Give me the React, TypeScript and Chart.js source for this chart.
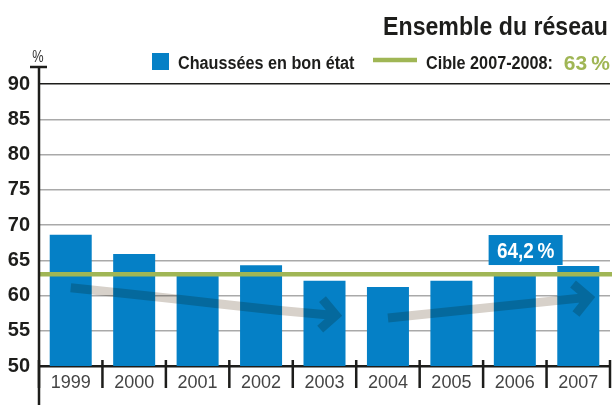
import React, { useEffect, useRef } from "react";
import { Chart, registerables } from "chart.js";

Chart.register(...registerables);

// ---- data ----
const years = ["1999", "2000", "2001", "2002", "2003", "2004", "2005", "2006", "2007"];
const goodCondition = [68.6, 65.9, 63.0, 64.3, 62.1, 61.2, 62.1, 63.0, 64.2];
const targetValue = 63;
const yMin = 50;
const yMax = 90;
const yStep = 5;
// trend arrows: [category index, value]
const arrowDecline: [number, number][] = [[0, 61.1], [1.7, 59.5], [3.3, 57.8], [4.18, 57.2]];
const arrowRise: [number, number][] = [[5.0, 56.8], [6.7, 58.4], [8.17, 59.7]];
const calloutPos: [number, number] = [7.17, 66.45];

const titleText = "Ensemble du réseau";
const legendBars = "Chaussées en bon état";
const legendTarget = "Cible 2007-2008:";
const legendTargetValue = "63\u202F%";
const unitText = "%";

const BLUE = "#0580c6";
const GREEN = "#a0b655";
const DARK = "#1d1d1b";
const FONT = "'Liberation Sans', Arial, sans-serif";

function drawText(
  ctx: CanvasRenderingContext2D,
  s: string,
  x: number,
  y: number,
  font: string,
  color: string,
  align: "left" | "right" | "center",
  sx = 1
) {
  ctx.save();
  ctx.font = font;
  ctx.fillStyle = color;
  ctx.textBaseline = "alphabetic";
  ctx.textAlign = "left";
  const w = ctx.measureText(s).width * sx;
  const x0 = align === "right" ? x - w : align === "center" ? x - w / 2 : x;
  ctx.translate(x0, y);
  ctx.scale(sx, 1);
  ctx.fillText(s, 0, 0);
  ctx.restore();
  return w;
}

function drawArrow(chart: any, pts: [number, number][]) {
  const { ctx, scales } = chart;
  const xs = scales.x;
  const ys = scales.y;
  const p = pts.map(([i, v]) => [xs.getPixelForValue(i), ys.getPixelForValue(v)]);
  ctx.save();
  ctx.globalCompositeOperation = "multiply";
  ctx.strokeStyle = "#d7d1ca";
  ctx.lineWidth = 9;
  ctx.lineCap = "butt";
  ctx.lineJoin = "miter";
  ctx.beginPath();
  ctx.moveTo(p[0][0], p[0][1]);
  for (let k = 1; k < p.length - 1; k++) {
    const mx = (p[k][0] + p[k + 1][0]) / 2;
    const my = (p[k][1] + p[k + 1][1]) / 2;
    if (k === p.length - 2) ctx.quadraticCurveTo(p[k][0], p[k][1], p[k + 1][0] - 4, p[k + 1][1]);
    else ctx.quadraticCurveTo(p[k][0], p[k][1], mx, my);
  }
  if (p.length === 2) ctx.lineTo(p[1][0] - 4, p[1][1]);
  const tip = p[p.length - 1];
  const prev = p[p.length - 2];
  const ang = Math.atan2(tip[1] - prev[1], tip[0] - prev[0]);
  const L = 21;
  ctx.moveTo(tip[0] + L * Math.cos(ang + Math.PI - 0.8), tip[1] + L * Math.sin(ang + Math.PI - 0.8));
  ctx.lineTo(tip[0], tip[1]);
  ctx.lineTo(tip[0] + L * Math.cos(ang + Math.PI + 0.8), tip[1] + L * Math.sin(ang + Math.PI + 0.8));
  ctx.stroke();
  ctx.restore();
}

const decorPlugin = {
  id: "decor",
  afterDatasetsDraw(chart: any) {
    const { ctx, scales, chartArea, width } = chart;
    const xs = scales.x;
    const ys = scales.y;
    drawArrow(chart, arrowDecline);
    drawArrow(chart, arrowRise);

    // target line
    const ty = ys.getPixelForValue(targetValue);
    ctx.save();
    ctx.strokeStyle = GREEN;
    ctx.lineWidth = 4.5;
    ctx.beginPath();
    ctx.moveTo(chartArea.left, ty);
    ctx.lineTo(width, ty);
    ctx.stroke();
    ctx.restore();

    // callout box
    const cx = xs.getPixelForValue(calloutPos[0]);
    const cy = ys.getPixelForValue(calloutPos[1]);
    ctx.save();
    ctx.fillStyle = BLUE;
    ctx.fillRect(cx - 37, cy - 15, 74, 30);
    ctx.restore();
    const lastVal = goodCondition[goodCondition.length - 1].toFixed(1).replace(".", ",") + "\u202F%";
    drawText(ctx, lastVal, cx, cy + 8, `bold 22px ${FONT}`, "#ffffff", "center", 0.86);
  },
  afterDraw(chart: any) {
    const { ctx, scales, chartArea, height } = chart;
    const xs = scales.x;
    // y axis line with cap
    ctx.save();
    ctx.strokeStyle = DARK;
    ctx.lineWidth = 2.5;
    ctx.beginPath();
    ctx.moveTo(chartArea.left, 67);
    ctx.lineTo(chartArea.left, height);
    ctx.moveTo(chartArea.left - 9, 67);
    ctx.lineTo(chartArea.left + 8, 67);
    ctx.stroke();
    // category separators
    ctx.lineWidth = 2.5;
    ctx.beginPath();
    for (let i = 0; i <= years.length; i++) {
      const x = xs.getPixelForValue(i - 0.5);
      ctx.moveTo(x, chartArea.bottom - 6);
      ctx.lineTo(x, chartArea.bottom + 22);
    }
    ctx.stroke();
    ctx.restore();

    // unit
    drawText(ctx, unitText, chartArea.left - 1, 62, `17px ${FONT}`, "#333", "center", 0.75);

    // title
    drawText(ctx, titleText, 608, 35, `bold 25px ${FONT}`, DARK, "right", 0.925);

    // legend
    ctx.save();
    ctx.fillStyle = BLUE;
    ctx.fillRect(152, 53, 17, 17);
    ctx.strokeStyle = GREEN;
    ctx.lineWidth = 4.5;
    ctx.beginPath();
    ctx.moveTo(373, 60);
    ctx.lineTo(417, 60);
    ctx.stroke();
    ctx.restore();
    drawText(ctx, legendBars, 178, 69, `bold 18px ${FONT}`, DARK, "left", 0.9);
    drawText(ctx, legendTarget, 426, 69, `bold 18px ${FONT}`, DARK, "left", 0.9);
    drawText(ctx, legendTargetValue, 610, 69.5, `bold 20px ${FONT}`, GREEN, "right", 1.05);
  },
};

export default function App() {
  const ref = useRef<HTMLCanvasElement | null>(null);
  useEffect(() => {
    if (!ref.current) return;
    const chart = new Chart(ref.current, {
      type: "bar",
      data: {
        labels: years,
        datasets: [
          {
            label: legendBars,
            data: goodCondition,
            backgroundColor: BLUE,
            borderWidth: 0,
            barPercentage: 0.662,
            categoryPercentage: 1,
          },
        ],
      },
      options: {
        animation: false,
        responsive: false,
        devicePixelRatio: 1,
        layout: { padding: { top: 84, right: 2, left: 0, bottom: 0 } },
        plugins: { legend: { display: false }, title: { display: false }, tooltip: { enabled: false } },
        scales: {
          x: {
            offset: true,
            grid: { display: false, drawOnChartArea: false, drawTicks: false },
            border: { display: true, color: DARK, width: 2.5 },
            ticks: { color: "#444444", font: { family: FONT, size: 18 }, padding: 6 },
            afterFit: (s: any) => {
              s.height = 39;
            },
          },
          y: {
            min: yMin,
            max: yMax,
            ticks: {
              stepSize: yStep,
              color: DARK,
              font: { family: FONT, size: 20, weight: "bold" },
              padding: 9,
            },
            grid: {
              drawTicks: false,
              lineWidth: 1.5,
              color: (c: any) =>
                c.tick && c.tick.value === yMax ? DARK : c.tick && c.tick.value === yMin ? "rgba(0,0,0,0)" : "#a9a9a9",
            },
            border: { display: false },
            afterFit: (s: any) => {
              s.width = 39;
            },
          },
        },
      },
      plugins: [decorPlugin],
    });
    return () => chart.destroy();
  }, []);
  return (
    <div style={{ position: "absolute", left: 0, top: 0, width: 612, height: 405, background: "#fff" }}>
      <canvas ref={ref} width={612} height={405} />
    </div>
  );
}
